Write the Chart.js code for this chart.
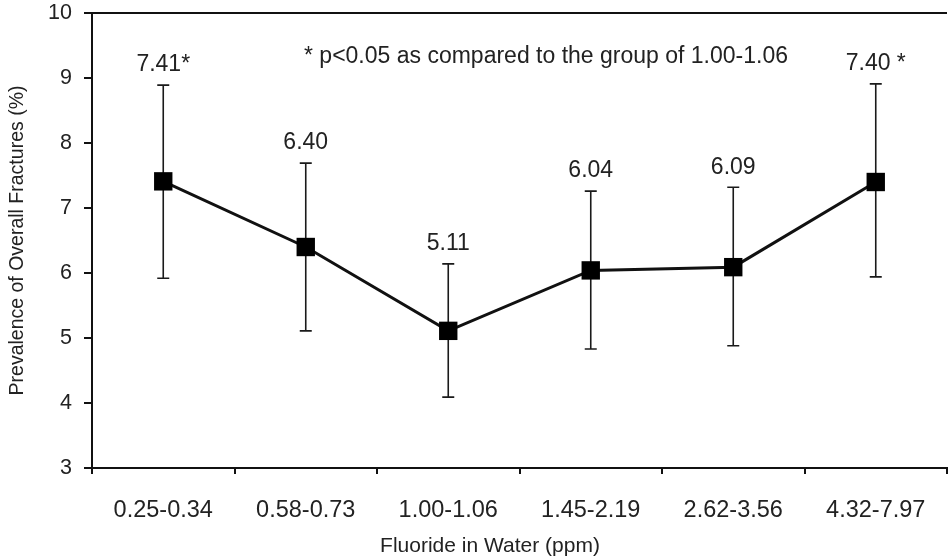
<!DOCTYPE html>
<html>
<head>
  <title>Fluoride in Water - Overall Fractures</title>
  <script src="https://cdn.jsdelivr.net/npm/chart.js"></script>
  <style>
    html, body {
      margin: 0;
      padding: 0;
      overflow: hidden;
      background: #fff;
    }
    #wrap {
      width: 960px;
      height: 558px;
    }
  </style>
</head>
<body>
  <div id="wrap"><canvas id="chart"></canvas></div>

  <script>
    // fluoride groups (ppm) and prevalence of overall fractures (%)
    var ranges = ["0.25-0.34", "0.58-0.73", "1.00-1.06", "1.45-2.19", "2.62-3.56", "4.32-7.97"];
    var prevalence = [7.41, 6.40, 5.11, 6.04, 6.09, 7.40];
    var lowerCI = [5.92, 5.11, 4.09, 4.83, 4.88, 5.94];
    var upperCI = [8.89, 7.69, 6.14, 7.26, 7.32, 8.91];
    var marks = ["*", "", "", "", "", " *"];
    var yMin = 3, yMax = 10;
    var note = "* p<0.05 as compared to the group of 1.00-1.06";

    var FONT = "'Liberation Sans', Arial, sans-serif";
    var TEXT = "#222";
    var INK = "#111";

    // vertical bars with caps, drawn under the line and markers
    var errorBars = {
      id: "errorBars",
      beforeDatasetsDraw: function(chart) {
        var ctx = chart.ctx, xs = chart.scales.x, ys = chart.scales.y;
        ctx.save();
        ctx.strokeStyle = "#1a1a1a";
        ctx.lineWidth = 1.6;
        for (var i = 0; i < prevalence.length; i++) {
          var px = xs.getPixelForValue(i);
          var top = ys.getPixelForValue(upperCI[i]);
          var bot = ys.getPixelForValue(lowerCI[i]);
          ctx.beginPath();
          ctx.moveTo(px, top); ctx.lineTo(px, bot);
          ctx.moveTo(px - 6, top); ctx.lineTo(px + 6, top);
          ctx.moveTo(px - 6, bot); ctx.lineTo(px + 6, bot);
          ctx.stroke();
        }
        ctx.restore();
      }
    };

    // value labels over each bar, the footnote and the x axis title
    var labels = {
      id: "labels",
      afterDatasetsDraw: function(chart) {
        var ctx = chart.ctx, xs = chart.scales.x, ys = chart.scales.y, area = chart.chartArea;
        ctx.save();
        ctx.fillStyle = TEXT;
        ctx.font = "23px " + FONT;
        ctx.textAlign = "center";
        ctx.textBaseline = "middle";
        for (var i = 0; i < prevalence.length; i++) {
          var px = xs.getPixelForValue(i);
          var top = ys.getPixelForValue(upperCI[i]);
          ctx.fillText(prevalence[i].toFixed(2) + marks[i], px, top - 20);
        }
        ctx.textAlign = "left";
        ctx.fillText(note, area.left + 212, 57);

        ctx.textAlign = "center";
        ctx.font = "21px " + FONT;
        ctx.fillText("Fluoride in Water (ppm)", area.left + 398, 546);
        ctx.restore();
      }
    };

    var ctx = document.getElementById("chart").getContext("2d");
    var chart = new Chart(ctx, {
      type: "line",
      data: {
        labels: ranges,
        datasets: [{
          data: prevalence,
          borderColor: INK,
          borderWidth: 3,
          pointStyle: "rect",
          pointRadius: 13,
          pointBackgroundColor: "#000",
          pointBorderWidth: 0,
          tension: 0,
          fill: false
        }]
      },
      options: {
        responsive: true,
        maintainAspectRatio: false,
        animation: false,
        layout: { padding: { top: 13, left: 0, right: 0, bottom: 0 } },
        plugins: {
          legend: { display: false },
          tooltip: { enabled: false }
        },
        scales: {
          x: {
            offset: true,
            grid: {
              offset: true,
              drawOnChartArea: false,
              tickColor: INK,
              tickLength: 6,
              lineWidth: 2
            },
            border: { color: INK, width: 2 },
            ticks: {
              color: TEXT,
              font: { family: FONT, size: 23.5 },
              padding: 22,
              maxRotation: 0,
              autoSkip: false
            },
            afterFit: function(s) {
              s.height = 90;
              s.paddingLeft = 0;
              s.paddingRight = 0;
            }
          },
          y: {
            min: yMin,
            max: yMax,
            ticks: {
              stepSize: 1,
              color: TEXT,
              font: { family: FONT, size: 21.5 },
              padding: 12
            },
            grid: {
              color: function(c) { return c.tick && c.tick.value === yMax ? INK : "rgba(0,0,0,0)"; },
              tickColor: INK,
              tickLength: 8,
              lineWidth: 2
            },
            border: { color: INK, width: 2 },
            title: {
              display: true,
              text: "Prevalence of Overall Fractures (%)",
              color: TEXT,
              font: { family: FONT, size: 19.5 },
              padding: { top: 6, bottom: 0 }
            },
            afterFit: function(s) {
              s.width = 92;
              s.paddingTop = 0;
              s.paddingBottom = 0;
            }
          }
        }
      },
      plugins: [errorBars, labels]
    });
  </script>
</body>
</html>
